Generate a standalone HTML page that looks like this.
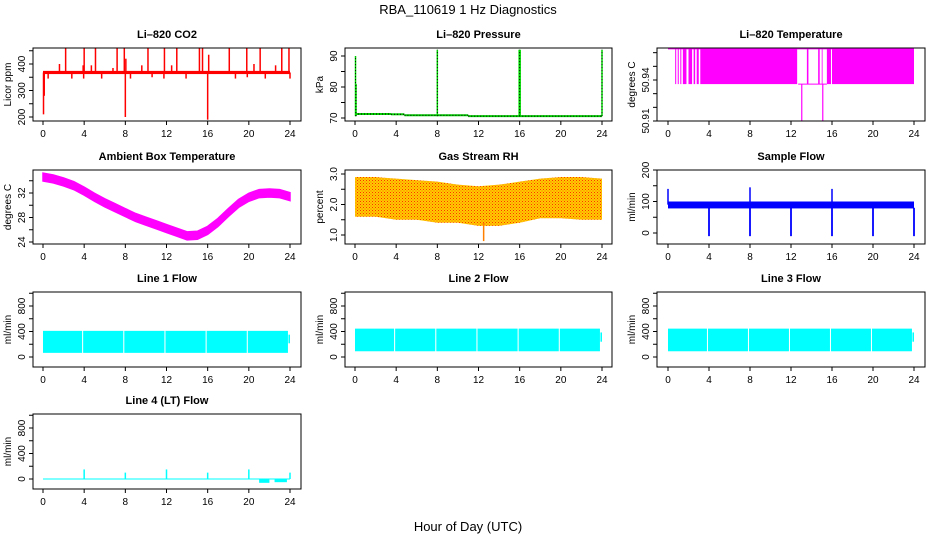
<!DOCTYPE html>
<html><head><meta charset="utf-8"><style>
body{margin:0;background:#fff;}
svg{display:block;font-family:"Liberation Sans",Arial,sans-serif;}
</style></head><body>
<svg id="chart" width="936" height="540" viewBox="0 0 936 540" xmlns="http://www.w3.org/2000/svg">
<defs>
<pattern id="rhpat" width="3" height="3" patternUnits="userSpaceOnUse">
<rect width="3" height="3" fill="#ffcc00"/><rect width="1" height="1" fill="#ff3000"/><rect x="1.5" y="1.5" width="1" height="1" fill="#ff6000"/>
</pattern>
</defs>
<text x="468" y="14" text-anchor="middle" font-size="13">RBA_110619  1 Hz Diagnostics</text>
<text x="468" y="531" text-anchor="middle" font-size="13">Hour of Day (UTC)</text>
</svg>
<script>
// ---- data ----
const xTicks = [0,4,8,12,16,20,24];
// CO2
const co2Base = [362, 374];
const co2SpikeHours = [2.2,4.0,5.1,7.2,7.9,10.2,11.8,13.0,15.2,15.5,18.1,19.8,21.1,23.2,23.9,1.6,3.9,4.7,6.8,9.6,12.5,16.1,20.5,22.6,8.05,0.05,0.12,8.0,16.0,0.5,2.8,3.95,5.7,8.5,10.6,11.75,13.9,18.7,19.85,21.6,24.0];
const co2SpikeVals = [460,460,460,460,460,460,460,460,460,460,460,465,460,460,460,400,395,395,385,395,395,435,400,395,420,210,280,200,190,345,345,345,345,345,350,345,345,345,350,345,345];
// Pressure
const presSegStart = [0,3.5,4.8,11];
const presSegEnd = [3.5,4.8,11,24];
const presSegVal = [71.3,71.2,70.9,70.6];
const presSpikeHours = [0.05,0.1,8.0,16.0,24.0];
const presSpikeVals = [90,81,92,92,92];
// Li-820 temperature
const ltHigh = 50.963, ltLow = 50.937;
const ltFillStart = [0.7,0.95,1.2,1.45,2.0,2.5,2.8,3.15,13.55,14.65,15.0,15.5,16.0];
const ltFillEnd   = [0.8,1.05,1.3,1.8,2.35,2.65,3.0,12.6,13.7,14.8,15.05,15.9,24.0];
const ltDipHours = [13.05,15.1];
const ltDipVals = [50.91,50.91];
// Ambient box temperature (hourly)
const ambHours = [0,1,2,3,4,5,6,7,8,9,10,11,12,13,14,15,16,17,18,19,20,21,22,23,24];
const ambVals = [34.6,34.3,33.8,33.2,32.3,31.3,30.4,29.6,28.8,28.0,27.4,26.8,26.2,25.6,25.0,25.1,25.9,27.2,28.8,30.3,31.3,31.9,32.0,31.9,31.4];
// Gas stream RH
const rhHours = [0,2,4,6,8,10,12,14,16,18,20,22,24];
const rhLow  = [1.6,1.6,1.5,1.5,1.4,1.4,1.3,1.3,1.4,1.55,1.55,1.5,1.5];
const rhHigh = [2.9,2.9,2.85,2.8,2.75,2.65,2.6,2.65,2.75,2.85,2.9,2.9,2.85];
const rhDip = [12.5, 0.8];
// Sample flow
const sfBand = [78, 100];
const sfDipHours = [4,8,12,16,20,24];
const sfDipVals = [-10,-10,-10,-10,-10,-10];
const sfUpHours = [0,8,16];
const sfUpVals = [140,145,140];
// Line flows
const flowSegStart = [0,3.9,7.9,11.9,15.9,19.9];
const flowSegEnd = [3.8,7.8,11.8,15.8,19.8,23.8];
const line1Range = [65, 410];
const line2Range = [90, 445];
const line3Range = [90, 445];
// Line 4
const l4SpikeHours = [4,8,12,16,20,24];
const l4SpikeVals = [150,100,150,100,150,100];
const l4DipStart = [21.0, 22.5];
const l4DipEnd = [22.0, 23.7];
const l4DipVals = [-60, -50];

// ---- layout ----
const svg = document.getElementById('chart');
const NS = 'http://www.w3.org/2000/svg';
const colBoxL = [33,345,657], colBoxR = [301,612,925], colX0 = [43,355,668], colX24 = [290,602,914];
const rowTop = [48,170,292,414], rowBot = [121,244,367,489];
function mk(tag, attrs, parent){ const e=document.createElementNS(NS,tag); for(const k in attrs) e.setAttribute(k,attrs[k]); (parent||svg).appendChild(e); return e; }

function panel(name, col, row, title, ylab, v1, p1, v2, p2, yticks, ylabels){
  const g = mk('g',{});
  
  
  const x = h => colX0[col] + (colX24[col]-colX0[col]) * h/24;
  const y = v => p1 + (p2-p1)*(v-v1)/(v2-v1);
  const L=colBoxL[col], R=colBoxR[col], T=rowTop[row], B=rowBot[row];
  const t = mk('text',{x:(L+R)/2,y:T-10,'text-anchor':'middle','font-size':11,'font-weight':'bold'},g);
  t.textContent = title;
  
  
  const yl = mk('text',{x:0,y:0,'text-anchor':'middle','font-size':10,transform:`translate(${L-22},${(T+B)/2}) rotate(-90)`},g);
  yl.textContent = ylab;
  
  
  const cg = mk('g',{'clip-path':`url(#clip-${name})`},g);
  const cp = mk('clipPath',{id:'clip-'+name},g);
  mk('rect',{x:L,y:T,width:R-L,height:B-T},cp);
  const ax = mk('g',{stroke:'#000','stroke-width':1,fill:'none'},g);
  
  
  mk('line',{x1:x(0),x2:x(24),y1:B,y2:B},ax);
  xTicks.forEach(h=>{ mk('line',{x1:x(h),x2:x(h),y1:B,y2:B+4},ax);
    const tl=mk('text',{x:x(h),y:B+16,'text-anchor':'middle','font-size':10,fill:'#000',stroke:'none'},g); tl.textContent=h;
    
     });
  mk('line',{x1:L,x2:L,y1:y(yticks[0]),y2:y(yticks[yticks.length-1])},ax);
  yticks.forEach(v=>{ mk('line',{x1:L-4,x2:L,y1:y(v),y2:y(v)},ax); });
  ylabels.forEach(v=>{ const tl=mk('text',{x:0,y:0,'text-anchor':'middle','font-size':10,transform:`translate(${L-8},${y(v)}) rotate(-90)`},g); tl.textContent=v;
    
     });
  mk('rect',{x:L,y:T,width:R-L,height:B-T,fill:'none',stroke:'#000'},g);
  return {x,y,g:cg};
}
function vline(p,h,a,b,color,w){ const l=mk('line',{x1:p.x(h),x2:p.x(h),y1:p.y(a),y2:p.y(b),stroke:color,'stroke-width':w||1.5},p.g);
    return l; }
function band(p,h1,h2,lo,hi,fill){ const r=mk('rect',{x:p.x(h1),y:p.y(hi),width:Math.max(p.x(h2)-p.x(h1),0.8),height:Math.abs(p.y(lo)-p.y(hi)),fill:fill},p.g);
    return r; }
function seq(a,b,s){ const r=[]; for(let v=a; v<=b+1e-9; v+=s) r.push(+v.toFixed(3)); return r; }

// CO2
let p = panel('co2-panel',0,0,'Li\u2013820 CO2','Licor ppm',200,117,400,64,seq(200,450,50),[200,300,400]);
band(p,0,24,co2Base[0],co2Base[1],'#ff0000');
co2SpikeHours.forEach((h,i)=>vline(p,h,368,co2SpikeVals[i],'#ff0000',1.5));
// Pressure
p = panel('pressure-panel',1,0,'Li\u2013820 Pressure','kPa',70,118,90,56,seq(70,90,5),[70,80,90]);
presSegStart.forEach((s,i)=>{ const l=mk('line',{x1:p.x(s),x2:p.x(presSegEnd[i]),y1:p.y(presSegVal[i]),y2:p.y(presSegVal[i]),stroke:'#00cc00','stroke-width':2},p.g);
   
  mk('line',{x1:p.x(s),x2:p.x(presSegEnd[i]),y1:p.y(presSegVal[i]),y2:p.y(presSegVal[i]),stroke:'#000','stroke-width':1,'stroke-dasharray':'1,2'},p.g); });
presSpikeHours.forEach((h,i)=>{ vline(p,h,70.6,presSpikeVals[i],'#00dd00',h===16?2.5:1.5);
  mk('line',{x1:p.x(h),x2:p.x(h),y1:p.y(70.6),y2:p.y(presSpikeVals[i]),stroke:'#000','stroke-width':1,'stroke-dasharray':'1,2'},p.g); });
// Li temp
p = panel('li820-temperature-panel',2,0,'Li\u2013820 Temperature','degrees C',50.91,121,50.94,80,seq(50.91,50.96,0.01),['50.91','50.94']);
mk('line',{x1:p.x(0),x2:p.x(24),y1:p.y(ltHigh),y2:p.y(ltHigh),stroke:'#ff00ff','stroke-width':1.5},p.g);
mk('line',{x1:p.x(12.7),x2:p.x(15.5),y1:p.y(ltLow),y2:p.y(ltLow),stroke:'#ff00ff','stroke-width':1},p.g);
ltFillStart.forEach((s,i)=>band(p,s,ltFillEnd[i],ltLow,ltHigh,'#ff00ff'));
ltDipHours.forEach((h,i)=>vline(p,h,ltLow,ltDipVals[i],'#ff00ff',1.2));
// Ambient
p = panel('ambient-temperature-panel',0,1,'Ambient Box Temperature','degrees C',24,242,32,193,seq(24,34,2),[24,28,32]);
{ let up=ambHours.map((h,i)=>`${p.x(h)},${p.y(ambVals[i]+0.65)}`); let dn=ambHours.slice().reverse().map((h,j)=>{const i=ambHours.length-1-j; return `${p.x(h)},${p.y(ambVals[i]-0.65)}`;});
  const pg=mk('polygon',{points:up.concat(dn).join(' '),fill:'#ff00ff',stroke:'#ff00ff','stroke-width':1.5},p.g);
    }
// RH
p = panel('gas-stream-rh-panel',1,1,'Gas Stream RH','percent',1.0,235,3.0,174,seq(1,3,0.5),['1.0','2.0','3.0']);
{ let up=rhHours.map((h,i)=>`${p.x(h)},${p.y(rhHigh[i])}`); let dn=rhHours.slice().reverse().map((h,j)=>{const i=rhHours.length-1-j; return `${p.x(h)},${p.y(rhLow[i])}`;});
  const pg=mk('polygon',{points:up.concat(dn).join(' '),fill:'url(#rhpat)'},p.g);
    }
vline(p,rhDip[0],1.4,rhDip[1],'#ff8000',1.5);
// Sample flow
p = panel('sample-flow-panel',2,1,'Sample Flow','ml/min',0,233,200,170,seq(0,200,50),[0,100,200]);
band(p,0,24,sfBand[0],sfBand[1],'#0000ff');
sfDipHours.forEach((h,i)=>vline(p,h,80,sfDipVals[i],'#0000ff',1.8));
sfUpHours.forEach((h,i)=>vline(p,h,90,sfUpVals[i],'#0000ff',1.5));
// Lines 1-3
[['line1-flow-panel',0,'Line 1 Flow',line1Range],['line2-flow-panel',1,'Line 2 Flow',line2Range],['line3-flow-panel',2,'Line 3 Flow',line3Range]].forEach(cfg=>{
  const q = panel(cfg[0],cfg[1],2,cfg[2],'ml/min',0,357,800,306,seq(0,1000,200),[0,400,800]);
  flowSegStart.forEach((s,i)=>band(q,s,flowSegEnd[i],cfg[3][0],cfg[3][1],'#00ffff'));
  band(q,23.85,24,cfg[3][0]+150,cfg[3][1]-60,'#00ffff');
});
// Line 4
p = panel('line4-flow-panel',0,3,'Line 4 (LT) Flow','ml/min',0,479,800,428,seq(0,1000,200),[0,400,800]);
band(p,0,24,-8,8,'#00ffff');
l4SpikeHours.forEach((h,i)=>vline(p,h,0,l4SpikeVals[i],'#00ffff',1.5));
l4DipStart.forEach((s,i)=>band(p,s,l4DipEnd[i],l4DipVals[i],0,'#00ffff'));
</script>
</body></html>
